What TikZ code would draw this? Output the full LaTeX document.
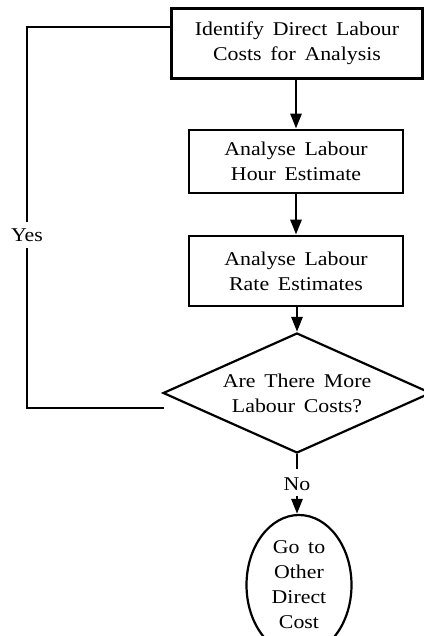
\documentclass[tikz,border=0pt]{standalone}
\usepackage{fontspec}
\setmainfont{Liberation Serif}[FakeStretch=1.12,WordSpace={1.6}]
\usetikzlibrary{shapes.geometric,arrows.meta}
\begin{document}
\begin{tikzpicture}[x=1pt,y=-1pt,
  every node/.style={font=\fontsize{19.5}{25}\selectfont, align=center, inner sep=0pt},
  procbox/.style={draw, line width=2.8pt, rectangle},
  decbox/.style={draw, line width=2.2pt, diamond, aspect=2.23},
  endbox/.style={draw, line width=2.2pt, ellipse},
  conn/.style={line width=2.8pt},
  arr/.style={conn, -{Triangle[length=15pt,width=11pt]}}]
\useasboundingbox (0,0) rectangle (423,636);
\node[procbox, minimum width=251pt, minimum height=70pt] (box1) at (297,43.5) {Identify Direct Labour\\Costs for Analysis};
\node[procbox, minimum width=214pt, minimum height=63pt] (box2) at (296,161.5) {Analyse Labour\\Hour Estimate};
\node[procbox, minimum width=214pt, minimum height=70pt] (box3) at (296,271) {Analyse Labour\\Rate Estimates};
\node[decbox, minimum width=268pt, minimum height=120pt] (dec) at (297,393) {Are There More\\Labour Costs?};
\node (no) at (297,484) {No};
\node[endbox, minimum width=105pt, minimum height=140pt] (goto) at (299,585) {Go to\\Other\\Direct\\Cost};
\node (yes) at (27,235) {Yes};
\coordinate (yesstart) at (164,408);
\coordinate (toplink) at (171,27);
\draw[arr] (box2.north |- box1.south) -- (box2.north);
\draw[arr] (box2.south) -- (box3.north);
\draw[arr] (box3.south -| dec.north) -- (dec.north);
\draw[conn] (dec.south) -- ([yshift=8pt]no.north);
\draw[arr] ([yshift=-5pt]no.south) -- (goto.north -| no.south);
\draw[conn] (yesstart) -| ([yshift=-6pt]yes.south);
\draw[conn] ([yshift=6pt]yes.north) |- (toplink);
\end{tikzpicture}
\end{document}
